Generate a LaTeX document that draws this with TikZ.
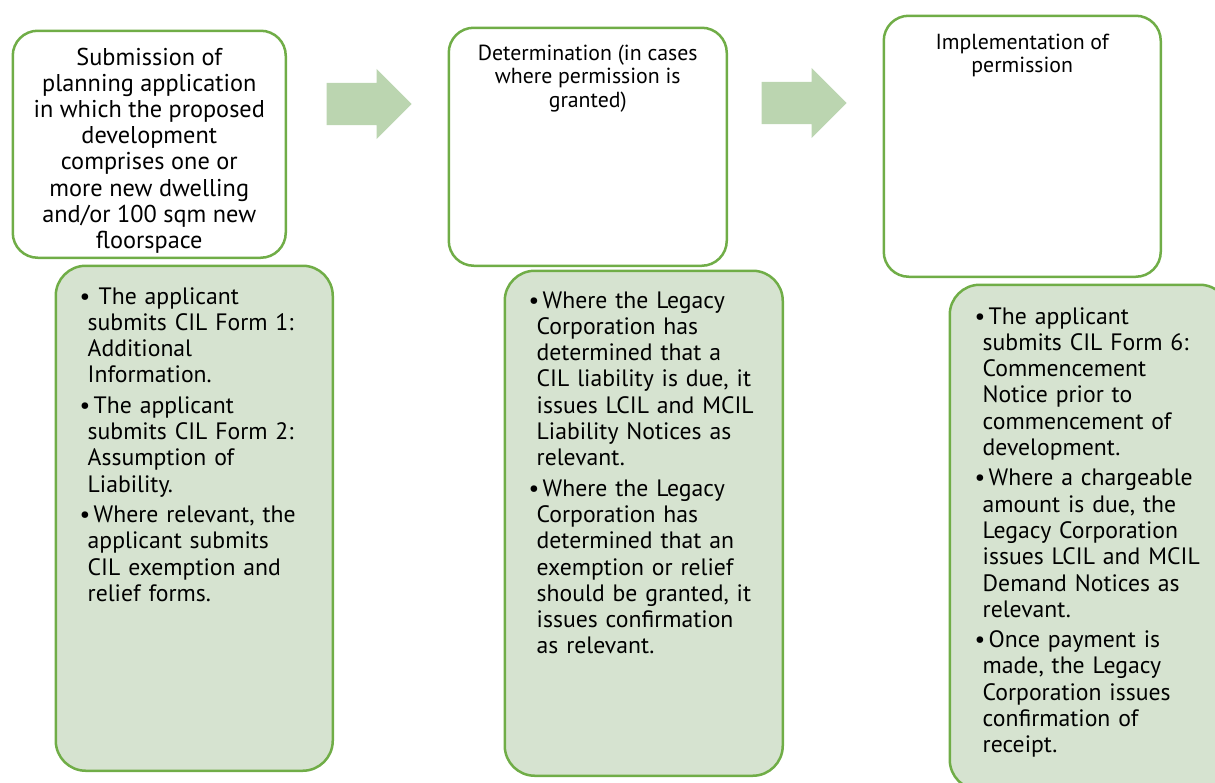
\documentclass[tikz,border=0pt]{standalone}
\usepackage{fontspec}
\setmainfont{PT Sans}
\usetikzlibrary{positioning, shapes.arrows}
\definecolor{cilgreen}{RGB}{112, 173, 71}
\definecolor{cilfill}{RGB}{214, 227, 208}
\definecolor{cilarrow}{RGB}{187, 213, 176}
% one bullet point with hanging indent
\newcommand{\cilitem}[1]{\par\hangindent=8pt\hangafter=1\noindent\makebox[14pt][l]{\textbullet}#1\par}

\begin{document}
\begin{tikzpicture}[x=1pt, y=-1pt,
    stagebox/.style={draw=cilgreen, line width=2.5pt, rounded corners=25pt, fill=white, anchor=north west, inner sep=0pt},
    listbox/.style={draw=cilgreen, line width=2.5pt, rounded corners=30pt, fill=cilfill, anchor=north west, inner sep=0pt},
    stagearrow/.style={single arrow, fill=cilarrow, draw=none, inner sep=21pt, minimum height=85pt, single arrow head extend=14pt, anchor=tip},
    bigtext/.style={align=center, inner sep=0pt, anchor=north, font=\fontsize{24.3}{26.2}\selectfont},
    smalltext/.style={align=center, inner sep=0pt, anchor=north, font=\fontsize{21.8}{23.5}\selectfont},
    listtext/.style={text width=240pt, align=left, inner sep=0pt, anchor=north west, font=\fontsize{23.7}{26.3}\selectfont}]
  \useasboundingbox (0,0) rectangle (1215,782);

  % Stage boxes (top row)
  \node[stagebox, minimum width=273pt, minimum height=227pt] (sub) at (11.5,29.5) {};
  \node[stagebox, minimum width=278pt, minimum height=238pt] (det) at (447.5,26.5) {};
  \node[stagebox, minimum width=277pt, minimum height=261pt] (imp) at (882.5,14.5) {};

  \node[bigtext] (subtitle) at ([yshift=-18pt]sub.north) {Submission of\\planning application\\in which the proposed\\development\\comprises one or\\more new dwelling\\and/or 100 sqm new\\floorspace};
  \node[smalltext] (dettitle) at ([yshift=-18pt]det.north) {Determination (in cases\\where permission is\\granted)};
  \node[smalltext] (imptitle) at ([yshift=-19pt]imp.north) {Implementation of\\permission};

  % Arrows between the stages
  \node[stagearrow] (arrone) at (412,104) {};
  \node[stagearrow] (arrtwo) at (847,103) {};

  % Detail boxes (bottom row)
  \node[listbox, minimum width=277pt, minimum height=505pt] (sublist) at (54.5,264.5) {};
  \node[listbox, minimum width=278pt, minimum height=505pt] (detlist) at (503.5,269.5) {};
  \node[listbox, minimum width=280pt, minimum height=505pt] (implist) at (948.5,283.5) {};

  \node[listtext] (subitems) at ([xshift=25pt, yshift=-9pt]sublist.north west) {\setlength{\parskip}{4pt}%
    \cilitem{\hspace{5pt}The applicant\newline submits CIL Form 1:\newline Additional\newline Information.}%
    \cilitem{The applicant\newline submits CIL Form 2:\newline Assumption of\newline Liability.}%
    \cilitem{Where relevant, the\newline applicant submits\newline CIL exemption and\newline relief forms.}};
  \node[listtext] (detitems) at ([xshift=25pt, yshift=-8pt]detlist.north west) {\setlength{\parskip}{4pt}%
    \cilitem{Where the Legacy\newline Corporation has\newline determined that a\newline CIL liability is due, it\newline issues LCIL and MCIL\newline Liability Notices as\newline relevant.}%
    \cilitem{Where the Legacy\newline Corporation has\newline determined that an\newline exemption or relief\newline should be granted, it\newline issues confirmation\newline as relevant.}};
  \node[listtext] (impitems) at ([xshift=26pt, yshift=-10pt]implist.north west) {\setlength{\parskip}{4pt}%
    \cilitem{The applicant\newline submits CIL Form 6:\newline Commencement\newline Notice prior to\newline commencement of\newline development.}%
    \cilitem{Where a chargeable\newline amount is due, the\newline Legacy Corporation\newline issues LCIL and MCIL\newline Demand Notices as\newline relevant.}%
    \cilitem{Once payment is\newline made, the Legacy\newline Corporation issues\newline confirmation of\newline receipt.}};
\end{tikzpicture}
\end{document}
